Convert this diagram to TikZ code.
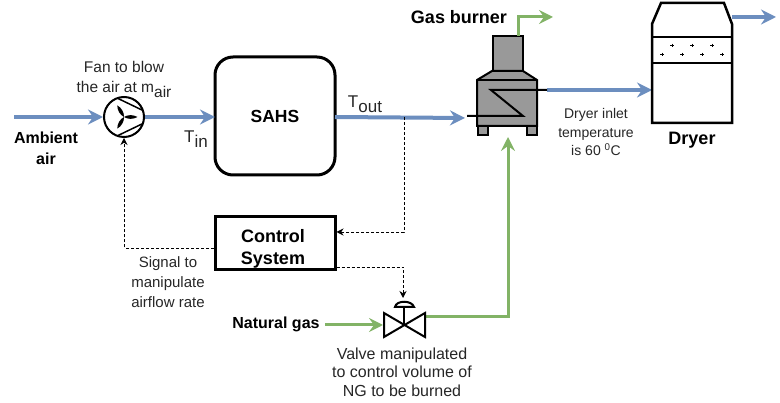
\documentclass[tikz,border=0pt]{standalone}
\usepackage{fontspec}
\setmainfont{Liberation Sans}
\usetikzlibrary{arrows.meta}
\definecolor{flowblue}{HTML}{6C8EBF}
\definecolor{flowgreen}{HTML}{82B366}
\definecolor{burnergray}{HTML}{999999}
\newcommand{\lowr}[1]{\raisebox{-0.28em}{#1}}
\tikzset{
  bluearrow/.style={draw=flowblue,line width=4pt,-{Stealth[length=15pt,width=15pt,inset=5pt]}},
  greenarrow/.style={draw=flowgreen,line width=3pt,-{Stealth[length=14pt,width=14pt,inset=5pt]}},
  signal/.style={draw=black,line width=0.8pt,dash pattern=on 3pt off 2pt,-{Stealth[length=7pt,width=7pt]}},
  lbl/.style={font=\fontsize{15.5}{19}\selectfont,align=center,text=black!85,inner sep=0pt},
  boldlbl/.style={font=\fontsize{16}{21}\selectfont\bfseries,align=center,inner sep=0pt},
  unit/.style={draw=black,line width=3pt,fill=white},
  part/.style={draw=black,line width=2pt,line join=miter},
  blade/.style={fill=black}
}
\newcommand{\grain}[2]{\draw[black,line width=1pt] (#1-1.8,#2) -- (#1+1.8,#2) (#1,#2-1.8) -- (#1,#2+1.8);}
\begin{document}
\begin{tikzpicture}[x=1pt,y=-1pt]
\useasboundingbox (0,0) rectangle (780,403);
% named anchors
\coordinate (ain) at (14,117);
\node[draw=black,line width=2pt,circle,minimum size=40pt,inner sep=0pt,fill=white] (fan) at (124,117) {};
\node[unit,rounded corners=18pt,minimum width=120pt,minimum height=118pt,inner sep=0pt,font=\fontsize{17.5}{21}\selectfont\bfseries] (sahs) at (275,116) {SAHS};
\node[unit,minimum width=120pt,minimum height=53pt,inner sep=0pt,font=\fontsize{18}{22}\selectfont\bfseries,align=center] (ctrl) at (275,243.5) {\rule{0pt}{23pt}Control\hspace*{4pt}\\System\hspace*{4pt}};
\coordinate (burnin) at (465,118);
\coordinate (burnout) at (547,90);
\coordinate (dryin) at (652,90);
\coordinate (dryout) at (732,17);
\coordinate (dryend) at (776,17);
\coordinate (split) at (404,117);
\coordinate (valve) at (404,325);
% blue flows
\draw[bluearrow] (ain) -- (fan);
\draw[bluearrow] (fan) -- (215,117);
\draw[bluearrow] (335,117) -- (burnin);
\draw[bluearrow] (burnout) -- (dryin);
\draw[bluearrow] (dryout) -- (dryend);
% burner
\filldraw[fill=burnergray,part] (492.5,36.5) rectangle (522.5,71);
\filldraw[fill=burnergray,part] (492,71) -- (523,71) -- (537,80) -- (537,126) -- (477,126) -- (477,80) -- cycle;
\draw[part] (477,80) -- (537,80);
\filldraw[fill=burnergray,part] (478,126) rectangle (488,135);
\filldraw[fill=burnergray,part] (527,126) rectangle (537,135);
\draw[part] (467,116) -- (523,116) -- (491,90) -- (547,90);
% gas lines
\draw[greenarrow] (518,36) -- (518,17) -- (553,17);
\draw[greenarrow] (325,325) -- (383,325);
\draw[greenarrow] (425,317) -- (508,317) -- (508,137);
% valve
\draw[part,fill=white] (384,313) -- (425,337) -- (425,313) -- (384,337) -- cycle;
\draw[part] (404,325) -- (404,307);
\draw[part,fill=white] (395,307) .. controls (396,300) and (412,300) .. (414,307) -- cycle;
% fan details
\draw[black,line width=1.5pt] (118,98.5) -- (143,110.5);
\draw[black,line width=1.5pt] (118,135.5) -- (143,123.5);
\foreach \a in {0,120,240}
  \fill[blade,shift={(124,117)},rotate=\a] (0,0) .. controls (4,-2.5) and (9,-2.5) .. (13.5,0) .. controls (9,2.5) and (4,2.5) .. (0,0) -- cycle;
% dryer
\draw[unit,line width=2.5pt] (652,123) -- (652,24) -- (661,3) -- (724,3) -- (732,24) -- (732,123) -- cycle;
\draw[black,line width=2pt] (652,37) -- (732,37);
\draw[black,line width=2pt] (652,63) -- (732,63);
\foreach \x in {672,692,712} {\grain{\x}{45.5}}
\foreach \x in {662,682,702,722} {\grain{\x}{54.5}}
% signals
\draw[signal] (split) -- (404,232) -- (ctrl.east |- 0,232);
\draw[signal] (ctrl.west |- 0,248) -- (124,248) -- (fan.south);
\draw[signal] (ctrl.east |- 0,267) -- (403,267) -- (403,298);
% labels
\node[boldlbl] (l1) at (46,148) {Ambient\\air};
\node[lbl,font=\fontsize{15.5}{20}\selectfont] (l2) at (124,79.5) {Fan to blow\\the air at m\lowr{air}};
\node[lbl,font=\fontsize{17}{20}\selectfont] (l3) at (196,139) {T\lowr{in}};
\node[lbl,font=\fontsize{17}{20}\selectfont] (l4) at (365,104) {T\lowr{out}};
\node[boldlbl,font=\fontsize{18}{21}\selectfont\bfseries] (l5) at (459,17) {Gas burner};
\node[lbl,font=\fontsize{14}{18.5}\selectfont] (l6) at (596,132) {Dryer inlet\\temperature\\is 60 \textsuperscript{0}C};
\node[boldlbl,font=\fontsize{18}{21}\selectfont\bfseries] (l7) at (692,140) {Dryer};
\node[lbl,font=\fontsize{15}{20}\selectfont] (l8) at (168,282.5) {Signal to\\manipulate\\airflow rate};
\node[boldlbl] (l9) at (276,324) {Natural gas};
\node[lbl,font=\fontsize{16}{18.5}\selectfont] (l10) at (402,372) {Valve manipulated\\to control volume of\\NG to be burned};
\end{tikzpicture}
\end{document}
